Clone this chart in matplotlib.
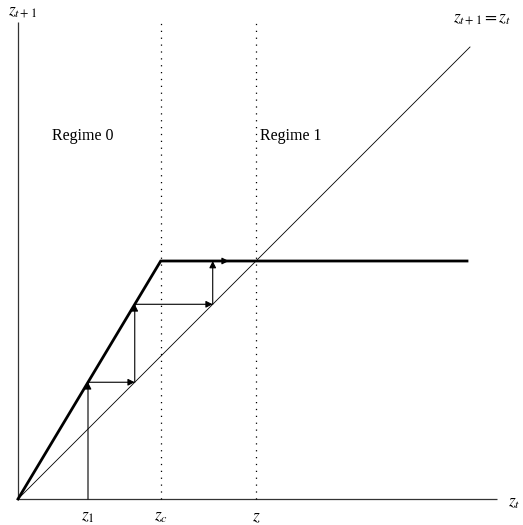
import matplotlib
matplotlib.use("Agg")
import matplotlib.pyplot as plt

plt.rcParams['mathtext.fontset'] = 'stix'
plt.rcParams['font.family'] = ['Liberation Serif', 'DejaVu Serif']

# model values (in plot units)
z_c = 142.7          # threshold
z_bar = 238.0        # steady state / plateau level
slope = z_bar / z_c  # slope of regime-0 branch
z_1 = 70.0           # starting point
x_end = 449.0        # end of plotted map
diag_end = 452.0     # end of 45-degree line
axis_x_max = 479.0
axis_y_max = 477.0

tick_positions = [z_1, z_c, z_bar]
tick_labels = [r'$z_1$', r'$z_c$', r'$z$']
regime_labels = ['Regime 0', 'Regime 1']
regime_x = [34.0, 242.0]
regime_y = 363.0


def f(z):
    return min(slope * z, z_bar)


fig = plt.figure(figsize=(5.23, 5.25), dpi=100)
ax = fig.add_axes([0, 0, 1, 1])
ax.set_xlim(-18, 505)
ax.set_ylim(-26, 499)
ax.axis('off')

# axes
ax.plot([0, axis_x_max], [0, 0], color='#333333', lw=0.9, solid_capstyle='butt')
ax.plot([0, 0], [0, axis_y_max], color='#333333', lw=0.9, solid_capstyle='butt')

# dotted verticals
for xv in [z_c, z_bar]:
    ax.plot([xv, xv], [0, axis_y_max], color='black', lw=0.9, ls=(0, (1, 4.5)))

# 45 degree line
ax.plot([0, diag_end], [0, diag_end], color='black', lw=0.6)

# map
ax.plot([0, z_c, x_end], [0, z_bar, z_bar], color='black', lw=2.0,
        solid_joinstyle='miter')

# cobweb
arrow_kw = dict(arrowstyle='-|>', color='black', lw=0.8, mutation_scale=10,
                shrinkA=0, shrinkB=0)
z = z_1
last_x = z
for i in range(3):
    fz = f(z)
    start_y = 0 if i == 0 else z
    ax.annotate('', xy=(z, fz), xytext=(z, start_y), arrowprops=arrow_kw)
    last_x = z
    if i < 2:
        ax.annotate('', xy=(fz, fz), xytext=(z, fz), arrowprops=arrow_kw)
    z = fz
ax.annotate('', xy=(last_x + 16, z_bar), xytext=(last_x, z_bar), arrowprops=arrow_kw)

# labels
for xp, lab in zip(tick_positions, tick_labels):
    ax.text(xp, -10, lab, ha='center', va='top', fontsize=12.5)
ax.text(-10, 487, r'$z_{t+1}$', ha='left', va='center', fontsize=12.5)
ax.text(490, -4, r'$z_t$', ha='left', va='center', fontsize=12.5)
ax.text(464, 480, r'$z_{t+1} = z_t$', ha='center', va='center', fontsize=12.5)
for xr, lab in zip(regime_x, regime_labels):
    ax.text(xr, regime_y, lab, ha='left', va='center', fontsize=11.5)

fig.savefig('out.png', dpi=100)
